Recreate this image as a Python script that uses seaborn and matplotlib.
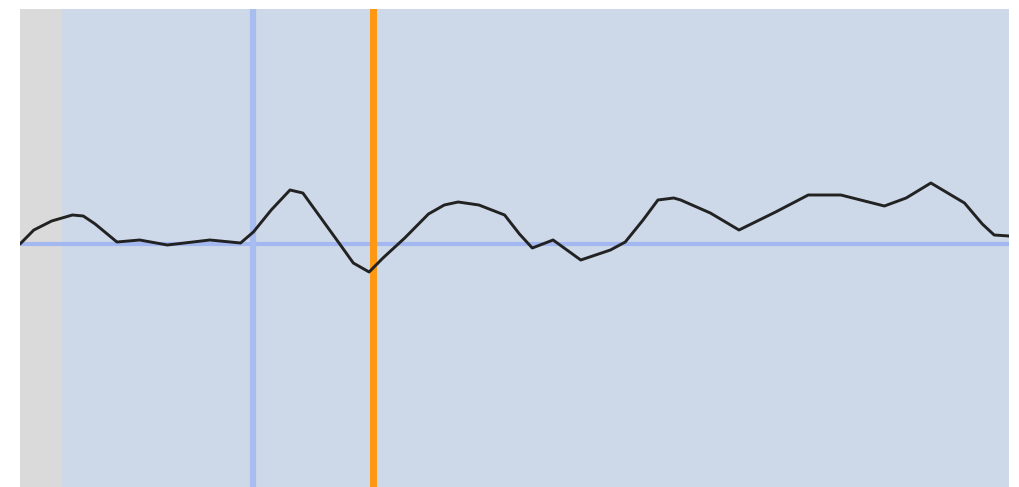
import matplotlib
matplotlib.use("Agg")
import matplotlib.pyplot as plt
import seaborn as sns
import pandas as pd

# Signal trace (x in 0..100 units, y relative to baseline)
x_vals = [0.0, 1.4, 3.2, 5.3, 6.4, 7.6, 9.8, 12.1, 14.9, 19.2, 22.3, 23.6, 25.4,
          27.3, 28.6, 30.5, 32.4, 33.7, 35.3, 36.7, 38.9, 41.3, 42.9, 44.3, 46.4,
          49.0, 50.5, 51.8, 53.9, 56.7, 59.7, 61.2, 63.0, 64.5, 66.1, 66.8, 69.8,
          72.7, 76.4, 79.7, 83.0, 87.4, 89.6, 92.1, 95.5, 97.3, 98.5, 100.0]
y_vals = [0.00, 0.14, 0.23, 0.29, 0.28, 0.20, 0.02, 0.04, -0.01, 0.04, 0.01, 0.12,
          0.34, 0.54, 0.51, 0.25, -0.01, -0.19, -0.28, -0.14, 0.06, 0.30, 0.39,
          0.42, 0.39, 0.29, 0.10, -0.04, 0.04, -0.16, -0.06, 0.02, 0.24, 0.44,
          0.46, 0.44, 0.31, 0.14, 0.32, 0.49, 0.49, 0.38, 0.46, 0.61, 0.41, 0.20,
          0.09, 0.08]

x_min, x_max = 0.0, 100.0
y_min, y_max = -2.43, 2.35
gray_end = 4.25
blue_x = 23.6
orange_x = 35.7
baseline_y = 0.0

df = pd.DataFrame({"x": x_vals, "y": y_vals})

sns.set_style("white")
fig = plt.figure(figsize=(10.2, 4.87), dpi=100)
ax = fig.add_axes([20 / 1020, 0.0, 989 / 1020, 478 / 487])
ax.set_facecolor("#cdd9e9")

ax.axvspan(x_min, gray_end, color="#dadada", zorder=0, lw=0)
ax.axhline(baseline_y, color="#a3b8f0", lw=3.0, zorder=1)
ax.axvline(blue_x, color="#a8bdf0", lw=4.5, zorder=1)
ax.axvline(orange_x, color="#ff9810", lw=5.0, zorder=2)

sns.lineplot(data=df, x="x", y="y", ax=ax, color="#222222", lw=2.1, zorder=3,
             solid_joinstyle="round", solid_capstyle="round")

ax.set_xlim(x_min, x_max)
ax.set_ylim(y_min, y_max)
ax.set_xticks([])
ax.set_yticks([])
ax.set_xlabel("")
ax.set_ylabel("")
for s in ax.spines.values():
    s.set_visible(False)

fig.savefig("out.png", dpi=100)
